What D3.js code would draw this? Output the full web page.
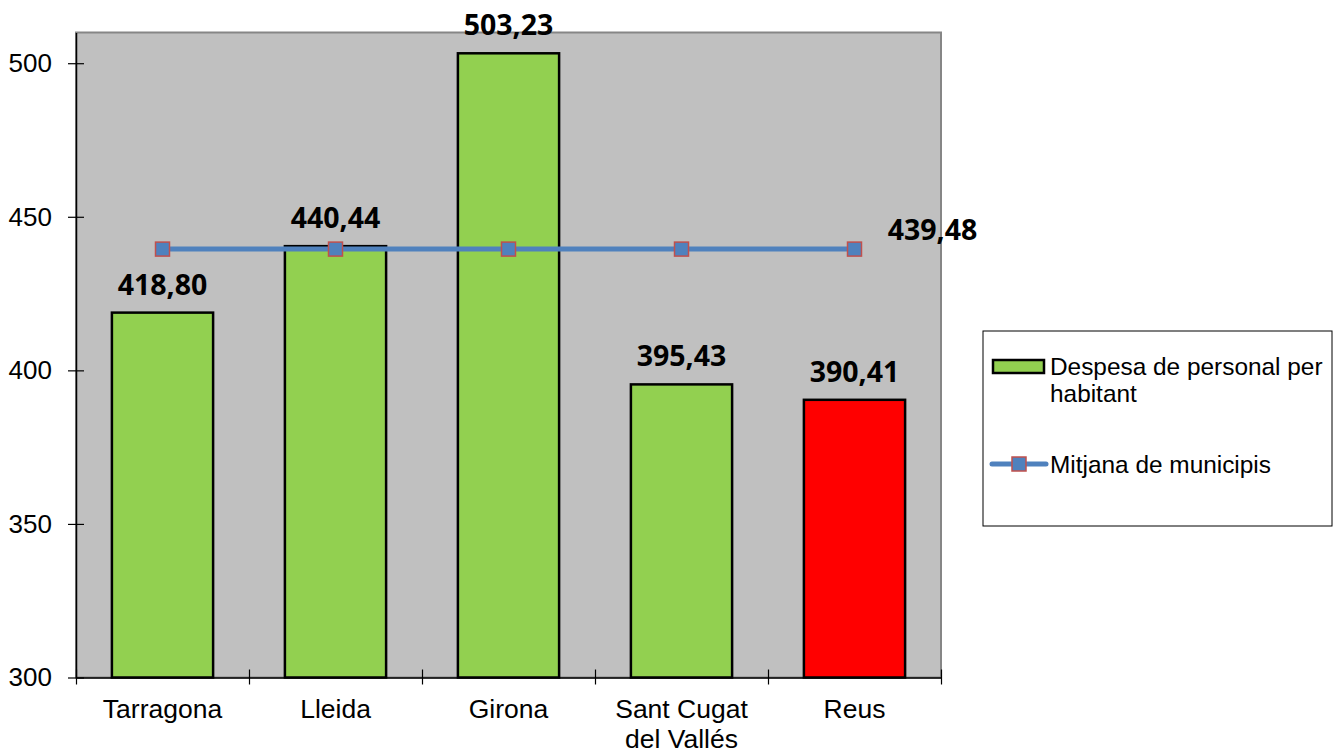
<!DOCTYPE html>
<html>
<head>
<meta charset="utf-8">
<script src="https://cdn.jsdelivr.net/npm/d3@7"></script>
<style>
  body { margin: 0; background: #fff; }
  svg { display: block; }
</style>
</head>
<body>
<script>
const ciutats = ["Tarragona", "Lleida", "Girona", "Sant Cugat del Vallés", "Reus"];
const despesa = [418.80, 440.44, 503.23, 395.43, 390.41];
const mitjana = [439.48, 439.48, 439.48, 439.48, 439.48];
const barColors = ["#92D050", "#92D050", "#92D050", "#92D050", "#FF0000"];
const yTicks = [300, 350, 400, 450, 500];
const legendLabels = ["Despesa de personal per habitant", "Mitjana de municipis"];

const w = 1339, h = 754;
const plotLeft = 76, plotRight = 941, plotTop = 32.5, plotBottom = 677.5;

const fmt = (v) => v.toFixed(2).replace(".", ",");

const svg = d3.select("body").append("svg")
  .attr("width", w)
  .attr("height", h);

const yScale = d3.scaleLinear().domain([300, 510]).range([plotBottom, plotTop]);
const xScale = d3.scaleBand().domain(ciutats).range([plotLeft, plotRight]).paddingInner(0.415).paddingOuter(0.2075);
const xEdge = d3.scaleLinear().domain([0, ciutats.length]).range([plotLeft, plotRight]);

// plot area
svg.append("rect")
  .attr("x", plotLeft).attr("y", plotTop)
  .attr("width", plotRight - plotLeft).attr("height", plotBottom - plotTop)
  .attr("fill", "#C0C0C0")
  .attr("stroke", "#868686")
  .attr("stroke-width", 2);

// bars
svg.selectAll("rect.bar")
  .data(despesa)
  .enter()
  .append("rect")
  .attr("class", "bar")
  .attr("x", (d, i) => xScale(ciutats[i]))
  .attr("y", (d) => yScale(d))
  .attr("width", xScale.bandwidth())
  .attr("height", (d) => yScale(300) - yScale(d))
  .attr("fill", (d, i) => barColors[i])
  .attr("stroke", "#000")
  .attr("stroke-width", 2.5);

// bar labels
svg.selectAll("text.barlabel")
  .data(despesa)
  .enter()
  .append("text")
  .attr("class", "barlabel")
  .attr("x", (d, i) => xScale(ciutats[i]) + xScale.bandwidth() / 2)
  .attr("y", (d) => yScale(d) - 18)
  .attr("text-anchor", "middle")
  .style("font-family", "'Open Sans', sans-serif")
  .style("font-weight", "700")
  .style("font-size", "28.5px")
  .text((d) => fmt(d));

// y axis
const yAxis = d3.axisLeft(yScale).tickValues(yTicks).tickSize(8).tickSizeOuter(0).tickPadding(16);
const gy = svg.append("g")
  .attr("transform", "translate(" + plotLeft + ",0)")
  .call(yAxis);
gy.select(".domain").attr("stroke", "#000").attr("stroke-width", 1.5);
gy.selectAll(".tick line").attr("x1", 8).attr("stroke", "#000").attr("stroke-width", 1.2);
gy.selectAll(".tick text")
  .style("font-family", "'Liberation Sans', Arial, sans-serif")
  .style("font-size", "26px")
  .attr("fill", "#000");

// x axis: boundary ticks
const xTickAxis = d3.axisBottom(xEdge).tickValues(d3.range(ciutats.length + 1)).tickSize(7).tickSizeOuter(0).tickFormat("");
const gx = svg.append("g")
  .attr("transform", "translate(0," + plotBottom + ")")
  .call(xTickAxis);
gx.select(".domain").attr("stroke", "#000").attr("stroke-width", 1.5);
gx.selectAll(".tick line").attr("y1", -8).attr("stroke", "#000").attr("stroke-width", 1.2);

// x labels
const gxl = svg.append("g")
  .attr("transform", "translate(0," + plotBottom + ")")
  .call(d3.axisBottom(xScale).tickSize(0).tickPadding(0));
gxl.select(".domain").remove();
gxl.selectAll(".tick text").each(function(d) {
  const t = d3.select(this);
  t.text(null).attr("y", 0).attr("dy", null);
  const parts = d === "Sant Cugat del Vallés" ? ["Sant Cugat", "del Vallés"] : [d];
  parts.forEach((p, i) => {
    t.append("tspan").attr("x", 0).attr("y", 40 + i * 30).text(p);
  });
})
  .style("font-family", "'Liberation Sans', Arial, sans-serif")
  .style("font-size", "26.5px")
  .attr("fill", "#000");

// mean line
const cx = (i) => xScale(ciutats[i]) + xScale.bandwidth() / 2;
const line = d3.line().x((d, i) => cx(i)).y((d) => yScale(d));
svg.append("path")
  .datum(mitjana)
  .attr("d", line)
  .attr("fill", "none")
  .attr("stroke", "#4F81BD")
  .attr("stroke-width", 5);

svg.selectAll("rect.marker")
  .data(mitjana)
  .enter()
  .append("rect")
  .attr("class", "marker")
  .attr("x", (d, i) => cx(i) - 7)
  .attr("y", (d) => yScale(d) - 7)
  .attr("width", 14).attr("height", 14)
  .attr("fill", "#4F81BD")
  .attr("stroke", "#C0504D")
  .attr("stroke-width", 1.5);

svg.append("text")
  .attr("x", cx(mitjana.length - 1) + 78)
  .attr("y", yScale(mitjana[mitjana.length - 1]) - 9)
  .attr("text-anchor", "middle")
  .style("font-family", "'Open Sans', sans-serif")
  .style("font-weight", "700")
  .style("font-size", "28.5px")
  .text(fmt(mitjana[mitjana.length - 1]));

// legend
const legend = svg.append("g").attr("transform", "translate(983,331)");
legend.append("rect")
  .attr("width", 349).attr("height", 195)
  .attr("fill", "#fff")
  .attr("stroke", "#000")
  .attr("stroke-width", 1);

legend.append("rect")
  .attr("x", 10).attr("y", 29)
  .attr("width", 51).attr("height", 13)
  .attr("fill", "#92D050")
  .attr("stroke", "#000")
  .attr("stroke-width", 2.5);

const lt = legend.append("text")
  .style("font-family", "'Liberation Sans', Arial, sans-serif")
  .style("font-size", "24.4px")
  .attr("fill", "#000");
lt.append("tspan").attr("x", 67).attr("y", 44).text("Despesa de personal per");
lt.append("tspan").attr("x", 67).attr("y", 71).text("habitant");

legend.append("line")
  .attr("x1", 9).attr("x2", 63)
  .attr("y1", 133).attr("y2", 133)
  .attr("stroke", "#4F81BD")
  .attr("stroke-width", 5)
  .attr("stroke-linecap", "round");
legend.append("rect")
  .attr("x", 29).attr("y", 126)
  .attr("width", 14).attr("height", 14)
  .attr("fill", "#4F81BD")
  .attr("stroke", "#C0504D")
  .attr("stroke-width", 1.5);
legend.append("text")
  .attr("x", 67).attr("y", 142)
  .style("font-family", "'Liberation Sans', Arial, sans-serif")
  .style("font-size", "24.4px")
  .attr("fill", "#000")
  .text(legendLabels[1]);
</script>
</body>
</html>
